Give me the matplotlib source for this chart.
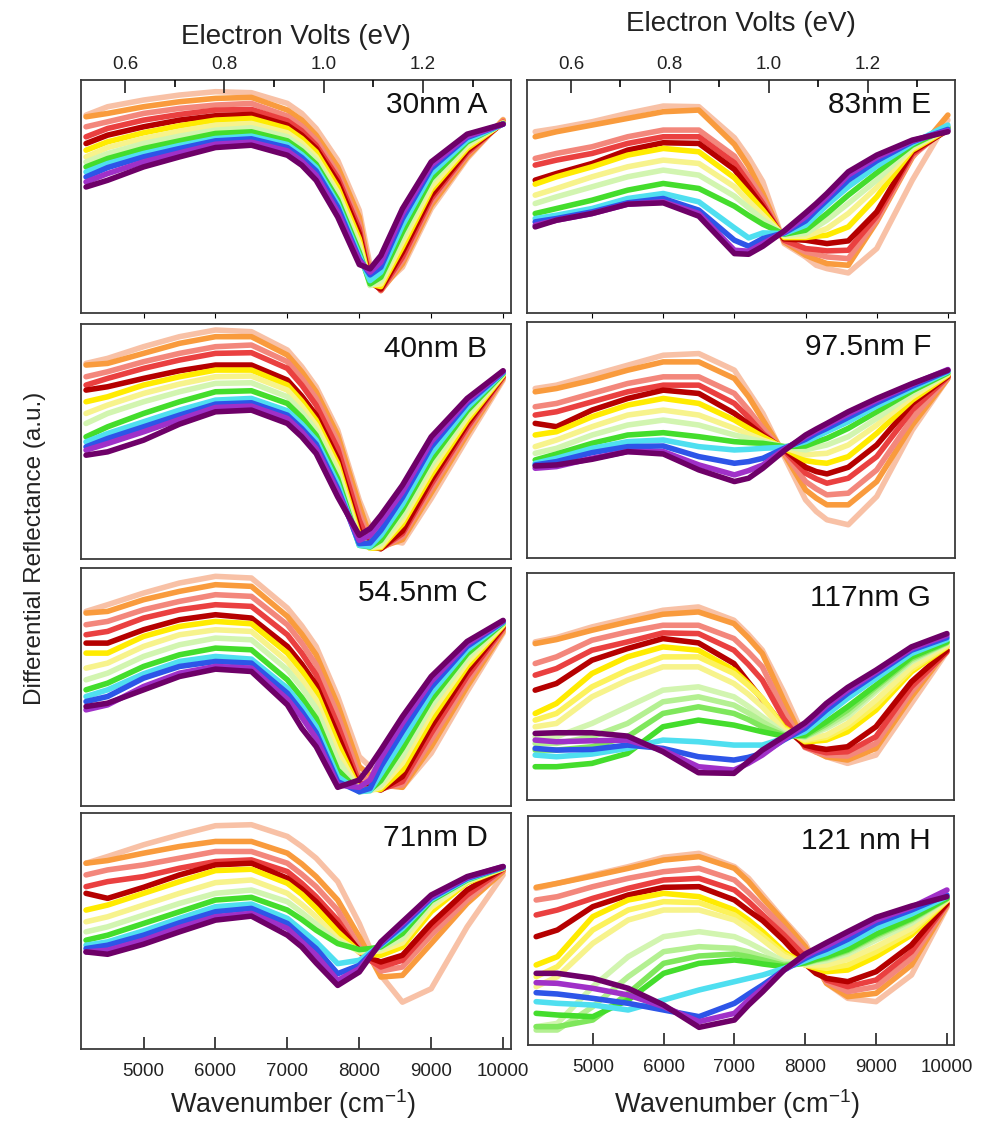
import matplotlib.pyplot as plt
from matplotlib.ticker import MultipleLocator, FormatStrFormatter

plt.rcParams['font.family'] = ['Liberation Sans', 'DejaVu Sans']
plt.rcParams['mathtext.default'] = 'regular'

wavenumber = [4200, 4500, 5000, 5500, 6000, 6500, 7000, 7200, 7400, 7700,
              8000, 8150, 8300, 8600, 9000, 9500, 10000]

# one colour per spectrum, same order in panels A-F
curve_colors = ['#f8c1a6', '#f99b3d', '#f3877c', '#ea4040', '#b50000', '#ffeb00', '#f7f38c',
                '#d2f5b0', '#44dd2c', '#4fdff0', '#2d55e8', '#a030c8', '#6e0068']
# G and H show more of the yellow-green spectra
fan_colors = ['#f8c1a6', '#f99b3d', '#f3877c', '#ea4040', '#b50000', '#ffeb00', '#fcf25c', '#f7f38c',
              '#d2f5b0', '#b4f092', '#7fe75c', '#44dd2c', '#4fdff0', '#2d55e8', '#a030c8', '#6e0068']

# differential reflectance, arbitrary units (one row per spectrum)
A_30nm = [
    [592, 617, 637, 652, 662, 659, 627, 597, 552, 457, 307, 142, 77, 137, 312, 462, 579],
    [587, 597, 617, 632, 642, 645, 607, 577, 532, 437, 287, 117, 67, 147, 322, 467, 577],
    [557, 572, 597, 612, 622, 627, 589, 559, 517, 417, 267, 107, 67, 157, 332, 474, 573],
    [527, 552, 577, 594, 607, 609, 575, 545, 502, 405, 252, 97, 69, 167, 342, 479, 571],
    [507, 532, 557, 577, 590, 594, 562, 532, 492, 392, 237, 92, 72, 182, 352, 485, 569],
    [487, 512, 539, 560, 577, 582, 552, 522, 482, 377, 222, 87, 79, 197, 367, 492, 569],
    [467, 495, 522, 544, 562, 567, 539, 509, 467, 362, 207, 84, 87, 212, 377, 499, 569],
    [452, 477, 507, 529, 547, 554, 527, 497, 457, 352, 195, 82, 97, 227, 392, 505, 567],
    [437, 462, 492, 515, 537, 542, 515, 485, 445, 339, 182, 87, 107, 242, 402, 512, 567],
    [422, 447, 477, 501, 522, 529, 504, 474, 435, 327, 172, 97, 122, 262, 417, 517, 565],
    [407, 435, 467, 492, 515, 521, 495, 465, 425, 317, 162, 114, 137, 282, 432, 525, 565],
    [392, 417, 452, 479, 505, 511, 485, 454, 412, 302, 157, 122, 152, 297, 442, 529, 565],
    [377, 397, 437, 467, 495, 502, 472, 442, 397, 287, 145, 132, 172, 312, 452, 535, 565],
]
B_40nm = [
    [586, 601, 636, 666, 686, 681, 626, 576, 516, 386, 176, 96, 61, 48, 181, 361, 536],
    [581, 586, 616, 646, 666, 666, 611, 561, 501, 371, 161, 66, 36, 58, 198, 374, 541],
    [546, 561, 591, 616, 636, 641, 591, 541, 481, 351, 136, 51, 31, 68, 211, 384, 544],
    [521, 541, 571, 596, 616, 618, 571, 521, 461, 331, 116, 41, 31, 76, 224, 394, 546],
    [506, 516, 541, 564, 581, 581, 536, 488, 431, 301, 86, 36, 31, 84, 236, 404, 548],
    [471, 486, 521, 546, 566, 566, 521, 473, 416, 286, 71, 32, 34, 104, 251, 414, 550],
    [436, 461, 496, 524, 546, 548, 506, 458, 401, 271, 61, 34, 38, 116, 266, 424, 552],
    [406, 436, 471, 501, 526, 528, 486, 441, 386, 256, 51, 34, 46, 131, 281, 434, 554],
    [366, 396, 436, 471, 501, 504, 466, 424, 371, 241, 41, 36, 56, 148, 298, 444, 556],
    [351, 376, 411, 446, 476, 481, 444, 404, 356, 226, 41, 38, 71, 164, 316, 454, 558],
    [336, 361, 396, 431, 464, 468, 431, 391, 344, 211, 46, 48, 86, 184, 336, 466, 560],
    [326, 346, 381, 418, 454, 458, 421, 381, 331, 201, 56, 71, 111, 201, 351, 474, 562],
    [311, 321, 356, 404, 441, 446, 406, 366, 316, 186, 71, 91, 131, 221, 366, 481, 564],
]
C_54nm = [
    [583, 603, 638, 668, 688, 683, 593, 540, 478, 328, 148, 118, 78, 56, 158, 343, 518],
    [578, 583, 618, 643, 663, 658, 568, 515, 453, 303, 118, 93, 63, 56, 178, 358, 523],
    [543, 553, 588, 613, 633, 628, 543, 488, 423, 273, 88, 78, 56, 63, 198, 373, 528],
    [513, 523, 563, 588, 603, 598, 513, 458, 393, 243, 68, 63, 50, 73, 218, 388, 532],
    [488, 488, 528, 558, 573, 563, 478, 425, 363, 213, 56, 56, 48, 88, 238, 403, 536],
    [458, 458, 508, 538, 553, 546, 458, 405, 343, 188, 50, 50, 50, 108, 258, 418, 540],
    [413, 428, 478, 513, 528, 523, 433, 380, 318, 163, 46, 46, 56, 128, 278, 430, 543],
    [378, 398, 448, 483, 503, 498, 408, 355, 293, 138, 43, 46, 63, 148, 298, 443, 546],
    [348, 368, 418, 453, 473, 468, 378, 325, 263, 108, 43, 48, 76, 173, 318, 456, 548],
    [328, 348, 396, 433, 448, 440, 353, 300, 238, 88, 43, 46, 96, 198, 338, 468, 550],
    [313, 328, 383, 418, 433, 428, 338, 283, 220, 73, 43, 53, 118, 223, 356, 478, 552],
    [288, 303, 358, 398, 418, 413, 320, 266, 203, 63, 56, 78, 143, 248, 373, 486, 554],
    [298, 308, 348, 388, 410, 403, 303, 233, 178, 56, 78, 120, 168, 268, 388, 493, 556],
]
D_71nm = [
    [555, 575, 610, 640, 667, 670, 635, 605, 570, 500, 375, 300, 220, 140, 180, 365, 520],
    [555, 563, 585, 605, 620, 620, 585, 553, 515, 445, 335, 275, 215, 220, 315, 435, 530],
    [520, 535, 550, 570, 590, 590, 555, 522, 485, 415, 305, 268, 233, 245, 340, 445, 535],
    [485, 500, 515, 540, 560, 565, 530, 495, 455, 385, 290, 265, 245, 265, 360, 460, 537],
    [465, 450, 483, 520, 550, 555, 510, 478, 440, 370, 295, 272, 260, 280, 375, 475, 539],
    [415, 430, 465, 500, 533, 537, 495, 462, 420, 350, 290, 283, 280, 305, 410, 497, 539],
    [380, 395, 430, 465, 497, 505, 465, 432, 395, 330, 290, 290, 293, 317, 423, 500, 540],
    [350, 365, 400, 435, 465, 475, 440, 408, 373, 320, 295, 297, 300, 330, 433, 502, 541],
    [325, 340, 375, 410, 445, 453, 415, 387, 355, 315, 297, 300, 305, 345, 443, 505, 542],
    [310, 320, 353, 390, 425, 433, 390, 355, 320, 255, 265, 288, 310, 360, 447, 507, 543],
    [300, 310, 340, 377, 410, 420, 375, 337, 300, 225, 250, 282, 313, 367, 451, 510, 543],
    [290, 295, 325, 363, 395, 405, 360, 320, 280, 205, 240, 278, 317, 375, 455, 513, 545],
    [290, 283, 313, 350, 385, 397, 340, 305, 257, 190, 230, 275, 320, 380, 460, 515, 545],
]
E_83nm = [
    [543, 553, 573, 598, 620, 618, 525, 465, 393, 208, 168, 143, 133, 120, 193, 398, 578],
    [528, 543, 563, 583, 603, 608, 505, 440, 358, 213, 173, 160, 148, 143, 273, 466, 593],
    [463, 478, 498, 528, 548, 548, 470, 408, 343, 216, 183, 176, 168, 163, 278, 470, 558],
    [443, 458, 478, 508, 528, 528, 450, 390, 328, 218, 193, 190, 186, 188, 290, 476, 553],
    [398, 418, 448, 488, 510, 508, 430, 375, 318, 222, 218, 213, 208, 216, 303, 483, 548],
    [386, 408, 438, 473, 493, 483, 405, 357, 308, 226, 226, 230, 233, 258, 348, 488, 550],
    [353, 373, 408, 438, 458, 448, 378, 335, 293, 230, 230, 241, 253, 298, 376, 493, 552],
    [328, 348, 378, 408, 428, 413, 350, 315, 280, 233, 238, 258, 278, 328, 398, 498, 553],
    [298, 313, 338, 368, 388, 373, 320, 292, 266, 236, 248, 273, 298, 353, 420, 503, 555],
    [283, 293, 313, 343, 358, 333, 255, 225, 240, 238, 263, 293, 323, 378, 440, 508, 563],
    [273, 283, 303, 330, 343, 308, 218, 200, 223, 240, 276, 308, 338, 398, 456, 513, 550],
    [263, 278, 298, 326, 333, 298, 188, 185, 208, 243, 288, 318, 348, 413, 466, 516, 546],
    [258, 278, 298, 326, 330, 290, 178, 176, 200, 246, 300, 328, 358, 423, 473, 518, 543],
]
F_97nm = [
    [510, 520, 550, 580, 610, 615, 565, 500, 435, 305, 175, 140, 115, 100, 185, 385, 540],
    [500, 510, 535, 565, 590, 590, 540, 485, 415, 313, 205, 180, 160, 160, 230, 400, 540],
    [455, 465, 495, 525, 545, 545, 495, 445, 390, 317, 230, 208, 190, 195, 265, 420, 543],
    [430, 440, 470, 500, 520, 520, 465, 423, 375, 323, 255, 238, 225, 240, 305, 445, 545],
    [405, 395, 445, 480, 505, 495, 435, 403, 370, 327, 273, 260, 253, 273, 340, 465, 547],
    [370, 380, 425, 460, 480, 465, 415, 390, 365, 330, 293, 288, 285, 305, 375, 475, 550],
    [335, 355, 395, 430, 445, 430, 390, 373, 355, 333, 310, 313, 315, 340, 400, 485, 553],
    [315, 330, 370, 400, 415, 400, 370, 360, 350, 335, 325, 333, 340, 365, 420, 495, 555],
    [295, 313, 345, 370, 377, 365, 350, 347, 345, 335, 337, 349, 360, 390, 440, 503, 557],
    [285, 300, 330, 350, 355, 335, 325, 327, 330, 333, 350, 365, 380, 410, 457, 510, 560],
    [280, 290, 317, 335, 337, 305, 285, 290, 300, 330, 357, 375, 390, 423, 467, 517, 563],
    [270, 275, 300, 320, 320, 280, 250, 263, 280, 327, 365, 383, 400, 433, 475, 523, 567],
    [277, 280, 297, 320, 313, 265, 230, 240, 270, 323, 370, 388, 405, 440, 480, 525, 565],
]
G_117nm = [
    [475, 488, 520, 545, 570, 580, 540, 498, 450, 325, 185, 152, 130, 110, 135, 290, 445],
    [470, 482, 510, 535, 558, 565, 530, 488, 440, 300, 170, 145, 130, 120, 155, 310, 450],
    [410, 430, 480, 505, 525, 525, 485, 445, 400, 270, 158, 145, 135, 132, 170, 325, 450],
    [375, 395, 450, 475, 502, 500, 450, 408, 360, 245, 160, 150, 142, 145, 190, 340, 445],
    [330, 350, 420, 455, 485, 472, 410, 355, 302, 220, 165, 157, 152, 160, 220, 355, 450],
    [260, 290, 380, 430, 460, 450, 390, 350, 305, 220, 175, 177, 180, 205, 270, 385, 460],
    [240, 260, 340, 390, 430, 430, 380, 345, 305, 215, 178, 183, 188, 220, 285, 392, 462],
    [220, 230, 310, 360, 400, 400, 350, 318, 280, 210, 182, 188, 195, 230, 300, 400, 465],
    [190, 190, 230, 280, 330, 340, 310, 282, 250, 202, 188, 202, 215, 250, 325, 415, 470],
    [170, 170, 190, 230, 295, 310, 285, 262, 235, 198, 190, 205, 222, 260, 332, 420, 472],
    [150, 150, 160, 190, 260, 280, 260, 242, 220, 195, 192, 210, 228, 270, 340, 425, 473],
    [100, 100, 110, 140, 220, 240, 225, 215, 205, 192, 195, 215, 235, 280, 345, 430, 475],
    [135, 130, 138, 155, 180, 175, 165, 165, 165, 185, 205, 230, 255, 305, 365, 440, 482],
    [155, 150, 152, 165, 155, 130, 120, 128, 140, 180, 215, 242, 270, 320, 378, 450, 488],
    [180, 175, 178, 180, 150, 100, 90, 110, 135, 182, 225, 253, 282, 330, 385, 455, 495],
    [200, 202, 202, 192, 145, 82, 80, 115, 150, 190, 232, 260, 290, 338, 390, 460, 500],
]
H_121nm = [
    [470, 485, 510, 535, 563, 575, 535, 500, 450, 375, 305, 245, 185, 140, 130, 210, 413],
    [473, 485, 507, 530, 555, 565, 530, 490, 440, 370, 295, 240, 185, 145, 155, 240, 417],
    [435, 445, 475, 500, 520, 530, 495, 457, 415, 350, 280, 235, 190, 160, 175, 260, 420],
    [390, 405, 440, 470, 495, 500, 465, 430, 390, 330, 265, 230, 195, 175, 195, 280, 423],
    [325, 345, 415, 450, 473, 475, 435, 403, 373, 313, 243, 215, 200, 190, 220, 300, 425],
    [240, 265, 385, 435, 455, 445, 405, 375, 340, 280, 240, 230, 220, 225, 265, 330, 433],
    [205, 235, 345, 405, 430, 427, 390, 360, 327, 273, 240, 235, 230, 240, 280, 340, 434],
    [175, 205, 305, 375, 405, 405, 375, 347, 315, 265, 240, 240, 240, 257, 295, 350, 435],
    [55, 65, 175, 265, 325, 340, 325, 307, 285, 250, 243, 248, 253, 273, 315, 365, 437],
    [45, 45, 115, 205, 280, 295, 290, 279, 265, 243, 245, 253, 259, 280, 324, 373, 438],
    [55, 55, 75, 155, 245, 267, 273, 265, 255, 239, 246, 255, 262, 284, 329, 377, 439],
    [95, 90, 85, 135, 215, 245, 255, 250, 243, 235, 247, 257, 265, 287, 333, 380, 440],
    [130, 125, 120, 105, 135, 165, 190, 200, 210, 230, 253, 265, 275, 303, 350, 393, 445],
    [157, 153, 140, 125, 105, 85, 125, 153, 180, 225, 260, 275, 287, 317, 365, 405, 450],
    [187, 185, 170, 150, 115, 70, 95, 135, 170, 225, 267, 283, 297, 330, 375, 413, 465],
    [215, 215, 200, 170, 120, 53, 75, 120, 160, 225, 273, 290, 307, 340, 383, 417, 445],
]

panels = [A_30nm, B_40nm, C_54nm, D_71nm, E_83nm, F_97nm, G_117nm, H_121nm]
panel_colors = [curve_colors] * 6 + [fan_colors] * 2
panel_labels = ['30nm A', '40nm B', '54.5nm C', '71nm D', '83nm E', '97.5nm F', '117nm G', '121 nm H']
panel_ymax = [697, 704, 713, 705, 698, 710, 682, 687]

ev_ticks = [0.6, 0.8, 1.0, 1.2]
wn_ticks = [5000, 6000, 7000, 8000, 9000, 10000]

# layout, pixel boxes (left, top, right, bottom) in the 988 x 1124 canvas
W, H = 988, 1124
boxes = [(81, 80, 511, 313), (81, 324, 511, 559), (81, 568, 511, 806), (81, 813, 511, 1049),
         (527, 80, 955, 313), (527, 322, 955, 558), (527, 573, 954, 800), (528, 816, 954, 1045)]
left_xlim = (4130, 10110)
right_xlim = (4085, 10100)
ev_lim = (0.511, 1.377)

fig = plt.figure(figsize=(W / 100, H / 100), dpi=100)

for i, curves in enumerate(panels):
    l, t, r, b = boxes[i]
    ax = fig.add_axes([l / W, 1 - b / H, (r - l) / W, (b - t) / H])
    for y, c in zip(curves, panel_colors[i]):
        ax.plot(wavenumber, y, color=c, lw=4.0,
                solid_joinstyle='round', solid_capstyle='round')
    ax.set_xlim(left_xlim if i < 4 else right_xlim)
    ax.set_ylim(0, panel_ymax[i])
    for s in ax.spines.values():
        s.set_color('#3a3a3a')
        s.set_linewidth(1.3)
    ax.set_yticks([])
    ax.set_xticks(wn_ticks)
    if i in (3, 7):
        ax.tick_params(axis='x', direction='in', length=9, width=1.2,
                       labelsize=13.5, pad=10, colors='#222222')
    else:
        ax.tick_params(axis='x', bottom=False, labelbottom=False)
    ax.annotate(panel_labels[i], xy=(1, 1), xycoords='axes fraction',
                xytext=(-17, -18), textcoords='offset points',
                ha='right', va='center', fontsize=21.5, color='#111111')

    if i in (0, 4):
        top = ax.twiny()
        top.set_xlim(ev_lim)
        top.set_xticks(ev_ticks)
        top.xaxis.set_major_formatter(FormatStrFormatter('%.1f'))
        top.xaxis.set_minor_locator(MultipleLocator(0.1))
        top.tick_params(axis='x', which='major', direction='in', length=9, width=1.2,
                        labelsize=13.5, pad=5, colors='#222222')
        top.tick_params(axis='x', which='minor', direction='in', length=5, width=1.2)
        for s in top.spines.values():
            s.set_visible(False)

fig.text(296 / W, 1 - 37 / H, 'Electron Volts (eV)', ha='center', va='center', fontsize=20, color='#222222')
fig.text(741 / W, 1 - 24 / H, 'Electron Volts (eV)', ha='center', va='center', fontsize=20, color='#222222')
fig.text(293 / W, 1 - 1104 / H, 'Wavenumber (cm$^{-1}$)', ha='center', va='center', fontsize=19.5, color='#222222')
fig.text(737 / W, 1 - 1104 / H, 'Wavenumber (cm$^{-1}$)', ha='center', va='center', fontsize=19.5, color='#222222')
fig.text(35 / W, 1 - 548 / H, 'Differential Reflectance (a.u.)', ha='center', va='center',
         rotation=90, fontsize=17.5, color='#222222')

fig.savefig('out.png', dpi=100)
